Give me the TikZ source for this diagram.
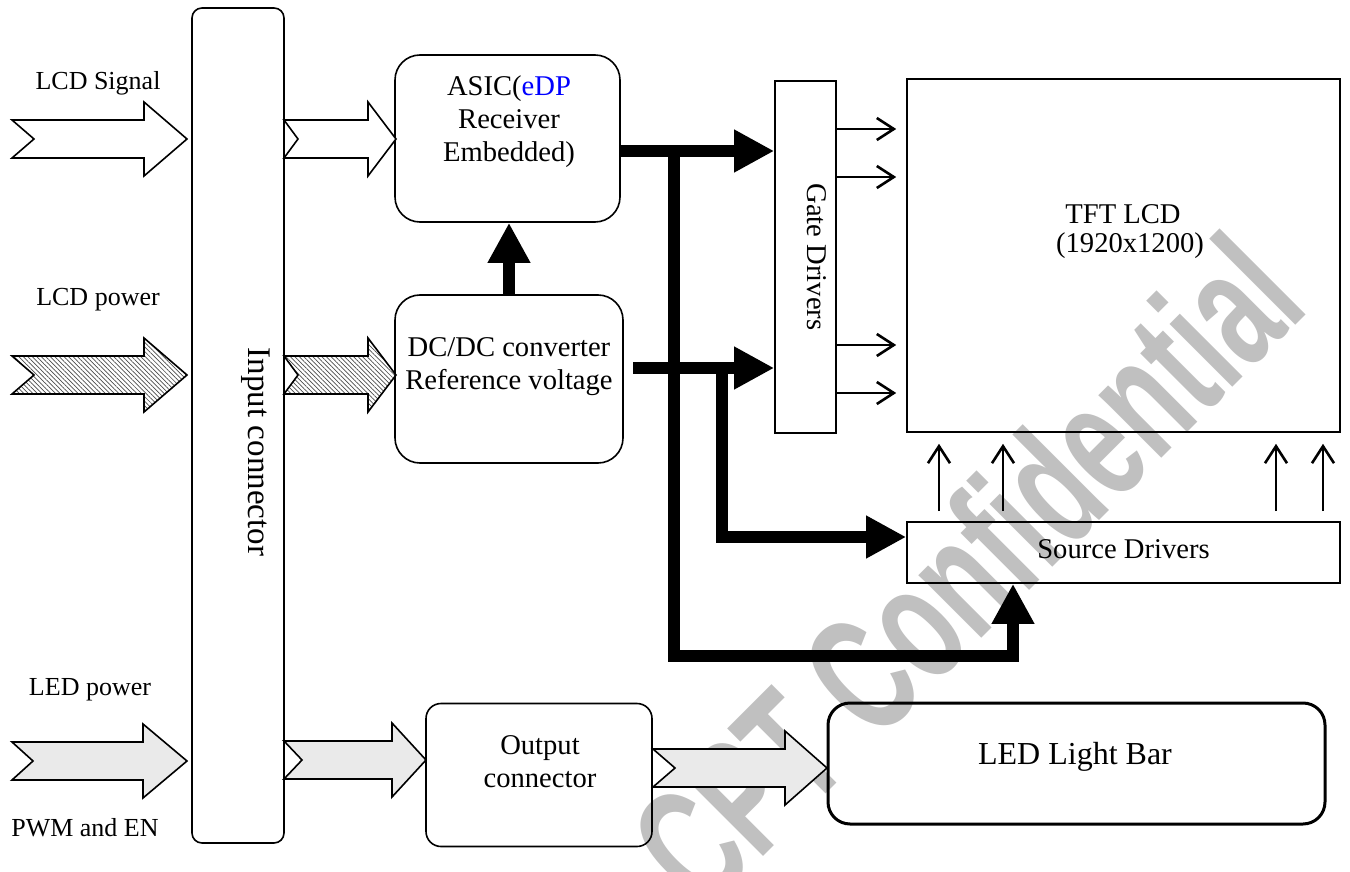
\documentclass[tikz,border=0pt]{standalone}
\usepackage{fontspec}
\usepackage{graphicx}
\setmainfont{Liberation Serif}
\newfontfamily\wmfont{Liberation Sans}
\usetikzlibrary{arrows.meta,patterns.meta}
\definecolor{wmgray}{RGB}{192,192,192}
\definecolor{ledfill}{RGB}{234,234,234}
\definecolor{edpblue}{RGB}{0,0,255}
\newcommand{\blkarrow}[6]{%
  \draw[#1] (#2,#6-19) -- (#4,#6-19) -- (#4,#6-37) -- (#5,#6) -- (#4,#6+37) -- (#4,#6+19) -- (#2,#6+19) -- (#3,#6) -- cycle;
}
\tikzset{
  rbox/.style={draw, line width=0.8pt, inner sep=0pt},
  lbl/.style={inner sep=0pt, font=\fontsize{13}{15.6}\selectfont},
  btxt/.style={inner sep=0pt, align=center, font=\fontsize{14.3}{16.5}\selectfont},
  sigarr/.style={draw, line width=0.8pt, fill=white, line join=miter},
  pwrarr/.style={draw, line width=0.8pt, line join=miter, pattern={Lines[angle=-45,distance=1.6pt,line width=0.35pt]}, pattern color=black!70},
  ledarr/.style={draw, line width=0.8pt, fill=ledfill, line join=miter},
  thickarr/.style={line width=6pt, line join=miter, -{Triangle[length=20pt,width=20pt]}},
  thinarr/.style={line width=1.2pt, -{Straight Barb[length=8.5pt,width=11pt,line width=1.3pt]}},
  wm/.style={inner sep=0pt, anchor=base west, rotate=45, text=wmgray, font=\wmfont\bfseries\fontsize{84}{84}\selectfont}
}
\begin{document}
\begin{tikzpicture}[x=0.5pt,y=-0.5pt]
\fill[white] (0,0) rectangle (1350,872);
\useasboundingbox (0,0) rectangle (1350,872);
% watermark
\begin{scope}
\clip (0,0) rectangle (1350,872);
\node[wm] (wmark) at (704,916) {\scalebox{0.634}[1]{CPT Confidential}};
\end{scope}
% boxes
\node[rbox, rounded corners=5pt, minimum width=46pt, minimum height=417.5pt] (inconn) at (238,425.5) {};
\node[rbox, rounded corners=12.5pt, minimum width=112.5pt, minimum height=83.5pt] (asic) at (507.5,138.5) {};
\node[rbox, rounded corners=12.5pt, minimum width=114pt, minimum height=84pt] (dcdc) at (509,379) {};
\node[rbox, minimum width=30.5pt, minimum height=176pt] (gate) at (805.5,257) {};
\node[rbox, minimum width=216.5pt, minimum height=176.5pt] (tft) at (1123.5,255.5) {};
\node[rbox, minimum width=216.5pt, minimum height=30.5pt] (src) at (1123.5,552.5) {};
\node[rbox, rounded corners=7.5pt, minimum width=113pt, minimum height=71.5pt] (outc) at (539,775) {};
\node[rbox, line width=1.5pt, rounded corners=11pt, minimum width=248.5pt, minimum height=60.5pt] (led) at (1076.5,763.5) {};
% texts
\node[lbl] (tsig) at (98,83) {LCD Signal};
\node[lbl] (tpwr) at (98,300) {LCD power};
\node[lbl] (tledp) at (90,690) {LED power};
\node[lbl] (tpwm) at (85,828) {PWM and EN};
\node[btxt, rotate=-90, font=\fontsize{16.5}{19}\selectfont] (tin) at (256,452) {Input connector};
\node[btxt] (tasic) at (509,122) {ASIC(\textcolor{edpblue}{eDP}\\Receiver\\Embedded)};
\node[btxt] (tdc) at (509,367) {DC/DC converter\\Reference voltage};
\node[btxt, rotate=-90] (tgate) at (817,257) {Gate Drivers};
\node[btxt] (ttft1) at (1123,214) {TFT LCD};
\node[btxt] (ttft2) at (1130,246) {(1920x1200)};
\node[btxt] (tsrc) at (1123.5,549) {Source Drivers};
\node[btxt] (tout) at (540,762) {Output\\connector};
\node[btxt, font=\fontsize{16}{19}\selectfont] (tled) at (1075,757) {LED Light Bar};
% block arrows
\blkarrow{sigarr}{12}{34}{144}{187}{139}
\blkarrow{sigarr}{284}{298}{368}{396}{139}
\blkarrow{pwrarr}{12}{34}{144}{187}{375}
\blkarrow{pwrarr}{284}{298}{368}{396}{375}
\blkarrow{ledarr}{12}{33}{143}{187}{761}
\blkarrow{ledarr}{284}{302}{392}{426}{760}
\blkarrow{ledarr}{653}{675}{785}{827}{768}
% thick connectors
\coordinate (j1) at (674,151);
\coordinate (j2) at (674,656);
\coordinate (j3) at (1013,656);
\coordinate (k0) at (633,368);
\coordinate (k1) at (722,368);
\coordinate (k2) at (722,537);
\draw[thickarr] (dcdc.north) -- (asic.south -| dcdc.north);
\draw[thickarr] (asic.east |- j1) -- (gate.west |- j1);
\draw[thickarr] (j1) -- (j2) -- (j3) -- (src.south -| j3);
\draw[thickarr] (k0) -- (gate.west |- k0);
\draw[thickarr] (k1) -- (k2) -- (src.west |- k2);
% gate to tft
\foreach \yy [count=\i] in {129,177,345,393} {
  \coordinate (g\i) at (0,\yy);
  \draw[thinarr, shorten >=5pt] (gate.east |- g\i) -- (tft.west |- g\i);
}
% source to tft
\foreach \xx [count=\i] in {939,1003,1276,1323} {
  \coordinate (s\i) at (\xx,0);
  \draw[thinarr, shorten <=5pt, shorten >=5.5pt] (src.north -| s\i) -- (tft.south -| s\i);
}
\end{tikzpicture}
\end{document}
